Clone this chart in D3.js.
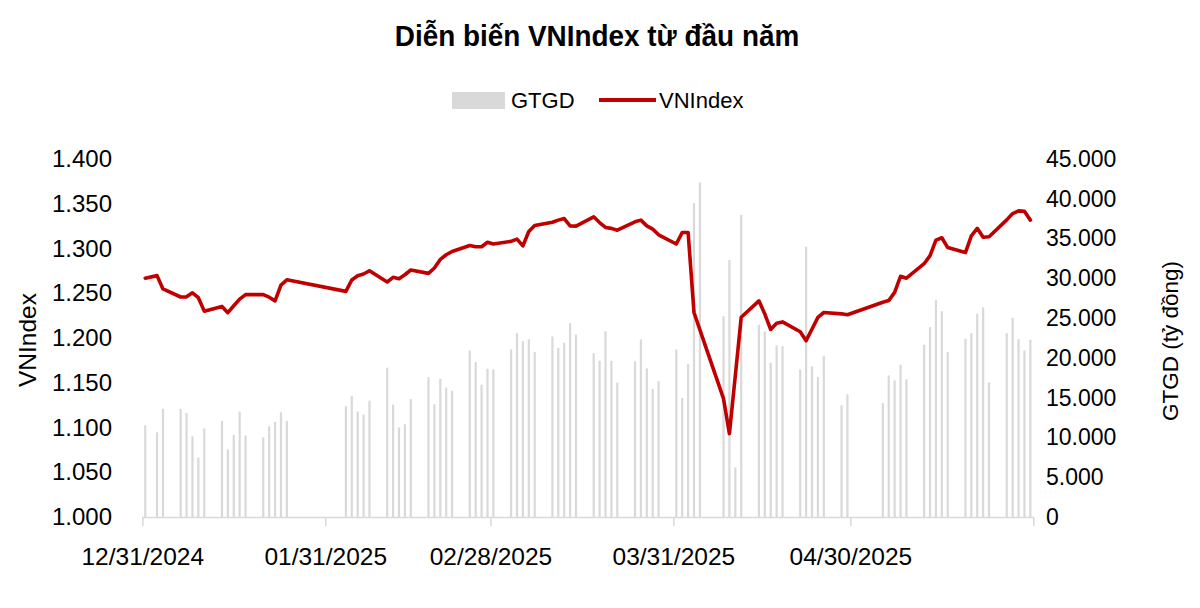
<!DOCTYPE html>
<html><head><meta charset="utf-8">
<script src="https://cdn.jsdelivr.net/npm/d3@7"></script>
<style>
body{margin:0;background:#fff}
svg text{font-family:"Liberation Sans",Arial,sans-serif;fill:#000}
</style>
</head><body>
<svg id="c" width="1200" height="608"></svg>
<script>
// ---- data ----
const dates = [
 "2024-12-31","2025-01-02","2025-01-03","2025-01-06","2025-01-07","2025-01-08","2025-01-09","2025-01-10",
 "2025-01-13","2025-01-14","2025-01-15","2025-01-16","2025-01-17","2025-01-20","2025-01-21","2025-01-22","2025-01-23","2025-01-24",
 "2025-02-03","2025-02-04","2025-02-05","2025-02-06","2025-02-07","2025-02-10","2025-02-11","2025-02-12","2025-02-13","2025-02-14",
 "2025-02-17","2025-02-18","2025-02-19","2025-02-20","2025-02-21","2025-02-24","2025-02-25","2025-02-26","2025-02-27","2025-02-28",
 "2025-03-03","2025-03-04","2025-03-05","2025-03-06","2025-03-07","2025-03-10","2025-03-11","2025-03-12","2025-03-13","2025-03-14",
 "2025-03-17","2025-03-18","2025-03-19","2025-03-20","2025-03-21","2025-03-24","2025-03-25","2025-03-26","2025-03-27","2025-03-28",
 "2025-03-31","2025-04-01","2025-04-02","2025-04-03","2025-04-04","2025-04-08","2025-04-09","2025-04-10","2025-04-11",
 "2025-04-14","2025-04-15","2025-04-16","2025-04-17","2025-04-18","2025-04-21","2025-04-22","2025-04-23","2025-04-24","2025-04-25",
 "2025-04-28","2025-04-29","2025-05-05","2025-05-06","2025-05-07","2025-05-08","2025-05-09",
 "2025-05-12","2025-05-13","2025-05-14","2025-05-15","2025-05-16","2025-05-19","2025-05-20","2025-05-21","2025-05-22","2025-05-23",
 "2025-05-26","2025-05-27","2025-05-28","2025-05-29","2025-05-30"
];
const vnindex = [
 1266.8,1269.7,1254.8,1245.8,1246.0,1250.5,1245.0,1230.0,
 1235.3,1228.3,1236.0,1243.5,1248.5,1248.5,1245.6,1241.5,1259.0,1265.0,
 1252.1,1264.8,1269.6,1271.5,1275.2,1262.6,1267.8,1266.3,1270.7,1276.0,
 1272.2,1278.2,1287.8,1293.0,1296.7,1303.4,1302.0,1302.0,1307.0,1305.0,
 1308.0,1310.5,1303.0,1319.0,1325.7,1329.4,1331.7,1333.5,1325.3,1325.0,
 1335.4,1329.0,1323.5,1322.5,1320.5,1329.8,1331.7,1325.3,1321.6,1315.3,
 1305.0,1317.9,1317.9,1228.5,1209.0,1132.2,1093.2,1158.0,1223.2,
 1241.5,1226.7,1209.5,1216.5,1218.0,1207.0,1197.0,1210.0,1223.0,1228.5,
 1227.0,1226.0,1240.0,1241.8,1251.0,1269.0,1266.8,
 1283.0,1292.0,1309.4,1312.0,1301.0,1295.5,1314.0,1322.5,1312.5,1313.2,
 1332.0,1339.0,1342.0,1341.5,1331.7
];
const gtgd = [
 11500,10650,13600,13600,13080,10150,7480,11120,
 12070,8480,10320,13250,10240,9990,11410,11950,13160,12070,
 13910,15210,13250,12870,14630,18770,14130,11240,11660,14830,
 17590,14170,17390,16260,15880,20930,19470,16630,18640,18550,
 21060,23100,22100,22350,20720,22690,21270,21900,24360,22940,
 20600,19640,23350,19640,16890,19560,22310,18680,16080,17090,
 21060,14960,19220,39450,42030,25230,32300,6230,37980,
 24160,23320,19390,21560,21480,18550,33970,18930,17590,20260,
 14040,15420,14330,17800,17170,19140,17300,
 21650,23860,27290,25860,20720,22400,23100,25530,26360,16920,
 23100,25030,22350,20930,22280
];
const leftTicks = [1000,1050,1100,1150,1200,1250,1300,1350,1400];
const rightTicks = [0,5000,10000,15000,20000,25000,30000,35000,40000,45000];
const xTickDates = ["2024-12-31","2025-01-31","2025-02-28","2025-03-31","2025-04-30","2025-05-31"];
const xTickLabels = ["12/31/2024","01/31/2025","02/28/2025","03/31/2025","04/30/2025",""];
const seriesNames = ["GTGD","VNIndex"];
const titleText = "Diễn biến VNIndex từ đầu năm";
const leftTitle = "VNIndex";
const rightTitle = "GTGD (tỷ đồng)";

// ---- setup ----
const parse = d3.timeParse("%Y-%m-%d");
const data = dates.map((d,i)=>({date:parse(d), v:vnindex[i], g:gtgd[i]}));
const loc = d3.formatLocale({decimal:",",thousands:".",grouping:[3],currency:["",""]});
const fmt = loc.format(",");

const svg = d3.select("#c");
const x = d3.scaleTime().domain([parse("2024-12-31"), parse("2025-05-31")]).range([142.3, 1033.3]);
const xc = d => x(d3.timeHour.offset(d, 12));
const yL = d3.scaleLinear().domain([1000,1400]).range([517,159]);
const yR = d3.scaleLinear().domain([0,45000]).range([517,159]);

const barColor = "#D9D9D9", lineColor = "#C00000";

// bars
svg.append("g").selectAll("rect").data(data).join("rect")
  .attr("x", d=>xc(d.date)-1.1).attr("width",2.2)
  .attr("y", d=>yR(d.g)).attr("height", d=>yR(0)-yR(d.g))
  .attr("fill", barColor);

// x axis
const xAxis = d3.axisBottom(x).tickValues(xTickDates.map(parse))
  .tickFormat((d,i)=>xTickLabels[i]).tickSize(9).tickSizeOuter(0);
const gx = svg.append("g").attr("transform","translate(0,517)").call(xAxis);
gx.select(".domain").attr("stroke","#D9D9D9").attr("stroke-width",1.5);
gx.selectAll(".tick line").attr("stroke","#D9D9D9").attr("stroke-width",1.5);
gx.selectAll(".tick text").attr("y",48).attr("dy",0).style("font-size","24.5px").attr("fill","#000");

// line
const line = d3.line().x(d=>xc(d.date)).y(d=>yL(d.v)).curve(d3.curveLinear);
svg.append("path").datum(data.filter(d=>d.v!=null)).attr("d",line)
  .attr("fill","none").attr("stroke",lineColor).attr("stroke-width",3.6)
  .attr("stroke-linejoin","round").attr("stroke-linecap","round");

// left axis
const gl = svg.append("g").attr("transform","translate(142,0)")
  .call(d3.axisLeft(yL).tickValues(leftTicks).tickFormat(fmt).tickSize(0).tickPadding(30));
gl.select(".domain").remove();
gl.selectAll("text").style("font-size","24px").attr("fill","#000");

// right axis
const gr = svg.append("g").attr("transform","translate(1033,0)")
  .call(d3.axisRight(yR).tickValues(rightTicks).tickFormat(fmt).tickSize(0).tickPadding(13));
gr.select(".domain").remove();
gr.selectAll("text").style("font-size","23px").attr("fill","#000");

// axis titles
svg.append("text").attr("transform","translate(36,340) rotate(-90)")
  .attr("text-anchor","middle").style("font-size","24.5px").text(leftTitle);
svg.append("text").attr("transform","translate(1178,341) rotate(-90)")
  .attr("text-anchor","middle").style("font-size","22.5px").text(rightTitle);

// title
svg.append("text").attr("transform","translate(597,46) scale(0.93,1)").attr("text-anchor","middle")
  .style("font-size","30px").style("font-weight","bold").text(titleText);

// legend
svg.append("rect").attr("x",452).attr("y",92).attr("width",53).attr("height",17).attr("fill",barColor);
svg.append("text").attr("x",511).attr("y",108).style("font-size","22px").text(seriesNames[0]);
svg.append("line").attr("x1",599).attr("x2",656).attr("y1",100).attr("y2",100)
  .attr("stroke",lineColor).attr("stroke-width",4);
svg.append("text").attr("x",659).attr("y",108).style("font-size","22px").text(seriesNames[1]);
</script>
</body></html>
